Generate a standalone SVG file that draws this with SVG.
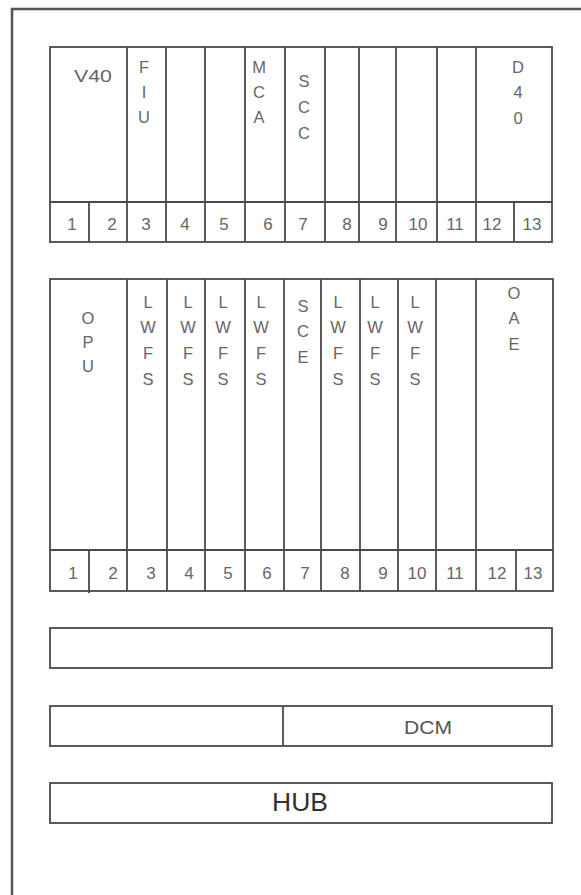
<svg xmlns="http://www.w3.org/2000/svg" width="581" height="895" viewBox="0 0 581 895">
<style>
.frame{fill:none;stroke:#555;stroke-width:2.5}
.box{fill:#fff;stroke:#4a4a4a;stroke-width:1.8}
.ln{stroke:#4a4a4a;stroke-width:1.8}
.t{font-family:"Liberation Sans",Arial,sans-serif;font-size:16.5px;fill:#666;text-anchor:middle}
.n{font-family:"Liberation Sans",Arial,sans-serif;font-size:17px;fill:#666;text-anchor:middle}
.d{font-family:"Liberation Sans",Arial,sans-serif;font-size:18px;fill:#555;text-anchor:middle}
.h{font-family:"Liberation Sans",Arial,sans-serif;font-size:25px;fill:#333;text-anchor:middle}
</style>
<rect width="581" height="895" fill="#fff"/>
<path class="frame" d="M12,895 V9 H581"/>

<g id="shelf-top">
<rect class="box" x="50" y="47" width="502" height="195"/>
<line class="ln" x1="50" y1="202" x2="552" y2="202"/>
<line class="ln" x1="89" y1="202" x2="89" y2="242"/>
<line class="ln" x1="514" y1="202" x2="514" y2="242"/>
<g id="top-slot-boundaries">
<line class="ln" x1="127" y1="47" x2="127" y2="242"/>
<line class="ln" x1="166" y1="47" x2="166" y2="242"/>
<line class="ln" x1="205" y1="47" x2="205" y2="242"/>
<line class="ln" x1="245" y1="47" x2="245" y2="242"/>
<line class="ln" x1="285" y1="47" x2="285" y2="242"/>
<line class="ln" x1="325" y1="47" x2="325" y2="242"/>
<line class="ln" x1="359" y1="47" x2="359" y2="242"/>
<line class="ln" x1="396" y1="47" x2="396" y2="242"/>
<line class="ln" x1="437" y1="47" x2="437" y2="242"/>
<line class="ln" x1="476" y1="47" x2="476" y2="242"/>
</g>
<g id="V40"><text class="t" x="93" y="82" textLength="38" lengthAdjust="spacingAndGlyphs">V40</text></g>
<g id="FIU"><text class="t"><tspan x="144" y="73">F</tspan><tspan x="144" y="98">I</tspan><tspan x="144" y="123">U</tspan></text></g>
<g id="MCA"><text class="t"><tspan x="259" y="73">M</tspan><tspan x="259" y="98">C</tspan><tspan x="259" y="123">A</tspan></text></g>
<g id="SCC"><text class="t"><tspan x="304" y="87">S</tspan><tspan x="304" y="113">C</tspan><tspan x="304" y="139">C</tspan></text></g>
<g id="D40"><text class="t"><tspan x="518" y="73">D</tspan><tspan x="518" y="98">4</tspan><tspan x="518" y="124">0</tspan></text></g>
<g id="top-numbers">
<text class="n" x="72" y="230">1</text>
<text class="n" x="112" y="230">2</text>
<text class="n" x="146" y="230">3</text>
<text class="n" x="185" y="230">4</text>
<text class="n" x="224" y="230">5</text>
<text class="n" x="268" y="230">6</text>
<text class="n" x="303" y="230">7</text>
<text class="n" x="347" y="230">8</text>
<text class="n" x="383" y="230">9</text>
<text class="n" x="418" y="230">10</text>
<text class="n" x="455" y="230">11</text>
<text class="n" x="492" y="230">12</text>
<text class="n" x="532" y="230">13</text>
</g>
</g>

<g id="shelf-bottom">
<rect class="box" x="50" y="279" width="503" height="312"/>
<line class="ln" x1="50" y1="550" x2="553" y2="550"/>
<line class="ln" x1="89" y1="550" x2="89" y2="593"/>
<line class="ln" x1="516" y1="550" x2="516" y2="591"/>
<g id="bottom-slot-boundaries">
<line class="ln" x1="127" y1="279" x2="127" y2="591"/>
<line class="ln" x1="167" y1="279" x2="167" y2="591"/>
<line class="ln" x1="205" y1="279" x2="205" y2="591"/>
<line class="ln" x1="245" y1="279" x2="245" y2="591"/>
<line class="ln" x1="284" y1="279" x2="284" y2="591"/>
<line class="ln" x1="321" y1="279" x2="321" y2="591"/>
<line class="ln" x1="360" y1="279" x2="360" y2="591"/>
<line class="ln" x1="398" y1="279" x2="398" y2="591"/>
<line class="ln" x1="436" y1="279" x2="436" y2="591"/>
<line class="ln" x1="476" y1="279" x2="476" y2="591"/>
</g>
<g id="OPU"><text class="t"><tspan x="88" y="324">O</tspan><tspan x="88" y="348">P</tspan><tspan x="88" y="372">U</tspan></text></g>
<g id="LWFS-3"><text class="t"><tspan x="148" y="308">L</tspan><tspan x="148" y="333">W</tspan><tspan x="148" y="359">F</tspan><tspan x="148" y="385">S</tspan></text></g>
<g id="LWFS-4"><text class="t"><tspan x="188" y="308">L</tspan><tspan x="188" y="333">W</tspan><tspan x="188" y="359">F</tspan><tspan x="188" y="385">S</tspan></text></g>
<g id="LWFS-5"><text class="t"><tspan x="223" y="308">L</tspan><tspan x="223" y="333">W</tspan><tspan x="223" y="359">F</tspan><tspan x="223" y="385">S</tspan></text></g>
<g id="LWFS-6"><text class="t"><tspan x="261" y="308">L</tspan><tspan x="261" y="333">W</tspan><tspan x="261" y="359">F</tspan><tspan x="261" y="385">S</tspan></text></g>
<g id="SCE"><text class="t"><tspan x="303" y="312">S</tspan><tspan x="303" y="337">C</tspan><tspan x="303" y="363">E</tspan></text></g>
<g id="LWFS-8"><text class="t"><tspan x="338" y="308">L</tspan><tspan x="338" y="333">W</tspan><tspan x="338" y="359">F</tspan><tspan x="338" y="385">S</tspan></text></g>
<g id="LWFS-9"><text class="t"><tspan x="375" y="308">L</tspan><tspan x="375" y="333">W</tspan><tspan x="375" y="359">F</tspan><tspan x="375" y="385">S</tspan></text></g>
<g id="LWFS-10"><text class="t"><tspan x="415" y="308">L</tspan><tspan x="415" y="333">W</tspan><tspan x="415" y="359">F</tspan><tspan x="415" y="385">S</tspan></text></g>
<g id="OAE"><text class="t"><tspan x="514" y="299">O</tspan><tspan x="514" y="324">A</tspan><tspan x="514" y="350">E</tspan></text></g>
<g id="bottom-numbers">
<text class="n" x="73" y="579">1</text>
<text class="n" x="113" y="579">2</text>
<text class="n" x="151" y="579">3</text>
<text class="n" x="189" y="579">4</text>
<text class="n" x="228" y="579">5</text>
<text class="n" x="267" y="579">6</text>
<text class="n" x="305" y="579">7</text>
<text class="n" x="345" y="579">8</text>
<text class="n" x="383" y="579">9</text>
<text class="n" x="417" y="579">10</text>
<text class="n" x="455" y="579">11</text>
<text class="n" x="497" y="579">12</text>
<text class="n" x="533" y="579">13</text>
</g>
</g>

<g id="bar-empty"><rect class="box" x="50" y="628" width="502" height="40"/></g>
<g id="bar-dcm">
<rect class="box" x="50" y="706" width="502" height="40"/>
<line class="ln" x1="283" y1="706" x2="283" y2="746"/>
<text class="d" x="428" y="734" textLength="48" lengthAdjust="spacingAndGlyphs">DCM</text>
</g>
<g id="bar-hub">
<rect class="box" x="50" y="783" width="502" height="40"/>
<text class="h" x="300" y="811" textLength="56" lengthAdjust="spacingAndGlyphs">HUB</text>
</g>
</svg>
